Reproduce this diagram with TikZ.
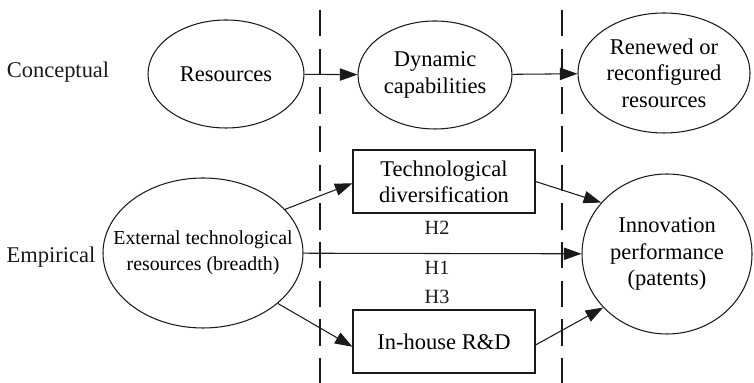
\documentclass[tikz,border=0pt]{standalone}
\usepackage{fontspec}
\setmainfont{Liberation Serif}
\usepackage{tikz}
\usepackage{xcolor}
\usetikzlibrary{arrows.meta, positioning, calc, shapes.geometric}
\definecolor{darktext}{HTML}{1A1A1A}

\begin{document}
\begin{tikzpicture}[
            oval/.style={ellipse, draw=darktext, line width=0.6pt, inner sep=0pt, align=center,
                         font=\fontsize{12.8}{15}\selectfont},
            box/.style={rectangle, draw=darktext, line width=0.6pt, minimum width=3.64cm,
                        minimum height=1.26cm, align=center, font=\fontsize{12.8}{15}\selectfont},
            lbl/.style={font=\fontsize{12.8}{15}\selectfont, text=darktext},
            hyp/.style={font=\fontsize{11.5}{13}\selectfont, text=darktext},
            link/.style={draw=darktext, line width=0.6pt, -{Triangle[length=10pt, width=7pt]}},
            divider/.style={draw=darktext, line width=1.5pt, dash pattern=on 15pt off 7pt}]
            \useasboundingbox (0,0) rectangle (15.08,7.66);
            % Dividers
            \coordinate (d1top) at (6.40,7.46);
            \coordinate (d1bot) at (6.40,0);
            \coordinate (d2top) at (11.24,7.46);
            \coordinate (d2bot) at (11.24,0);
            \draw[divider] (d1top) -- (d1bot);
            \draw[divider] (d2top) -- (d2bot);
            % Conceptual
            \node[lbl] (concept) at (1.16,6.22) {Conceptual};
            \node[oval, minimum width=3.12cm, minimum height=2.16cm] (res) at (4.52,6.18) {Resources};
            \node[oval, minimum width=3.08cm, minimum height=2.16cm] (dyn) at (8.70,6.16) {Dynamic\\capabilities};
            \node[oval, minimum width=3.44cm, minimum height=2.40cm] (ren) at (13.28,6.20) {Renewed or\\reconfigured\\resources};
            \draw[link] (res) -- (dyn);
            \draw[link] (dyn) -- (ren);
            % Empirical
            \node[lbl] (empir) at (1.02,2.52) {Empirical};
            \node[oval, inner xsep=-0.5cm, minimum width=4.0cm, minimum height=3.0cm,
                  font=\fontsize{11.3}{15}\selectfont] (ext) at (4.06,2.60) {External technological\\resources (breadth)};
            \node[box] (tech) at (8.88,4.03) {Technological\\diversification};
            \node[box] (rd) at (8.88,0.83) {In-house R\&D};
            \node[oval, minimum width=3.40cm, minimum height=3.20cm] (inn) at (13.34,2.58) {Innovation\\performance\\(patents)};
            \draw[link] (ext.28) -- ([yshift=-1pt]tech.west);
            \draw[link] (ext) -- (inn);
            \draw[link] (ext.-34) -- ([yshift=-3pt]rd.west);
            \draw[link] (tech.east) -- (inn.142);
            \draw[link] ([yshift=-2pt]rd.east) -- (inn.220);
            \node[hyp] (h2) at (8.74,3.10) {H2};
            \node[hyp] (h1) at (8.74,2.30) {H1};
            \node[hyp] (h3) at (8.74,1.72) {H3};
        \end{tikzpicture}
\end{document}
